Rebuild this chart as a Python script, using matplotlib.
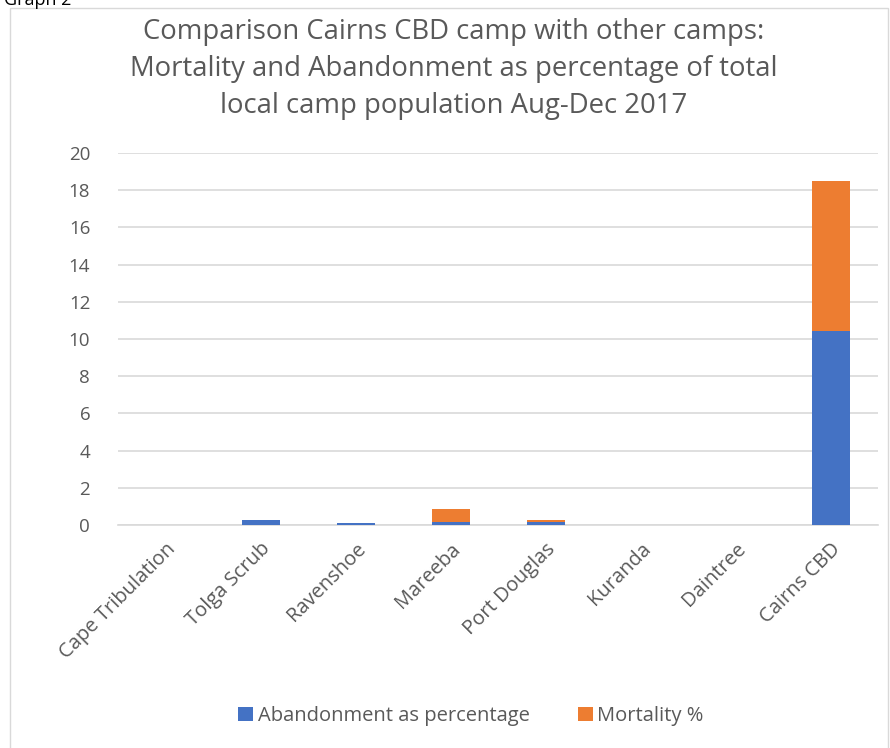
import matplotlib
matplotlib.use("Agg")
import matplotlib.pyplot as plt
from matplotlib.patches import Rectangle

# ── Data ──────────────────────────────────────────────────────────────────────
camps = ["Cape Tribulation", "Tolga Scrub", "Ravenshoe", "Mareeba",
         "Port Douglas", "Kuranda", "Daintree", "Cairns CBD"]
abandonment = [0.0, 0.25, 0.1, 0.18, 0.15, 0.0, 0.0, 10.45]
mortality   = [0.0, 0.0, 0.0, 0.7, 0.1, 0.0, 0.0, 8.05]
yticks = list(range(0, 21, 2))

title = ("Comparison Cairns CBD camp with other camps:\n"
         "Mortality and Abandonment as percentage of total\n"
         "local camp population Aug-Dec 2017")

BLUE   = "#4472c4"
ORANGE = "#ed7d31"
TEXT   = "#595959"
GRID   = "#d9d9d9"

plt.rcParams["font.family"] = ["Open Sans", "DejaVu Sans"]

fig = plt.figure(figsize=(8.9, 7.48), dpi=100, facecolor="white")

# chart frame (light grey border of the chart object)
fig.patches.append(Rectangle((10 / 890, -0.01), 878 / 890, 1 - 8 / 748 + 0.01,
                             transform=fig.transFigure, fill=False,
                             edgecolor=GRID, linewidth=1.0))
# clipped caption above the chart
fig.text(0.005, 1.0, "Graph 2", fontsize=13, color="#000000", va="center")

ax = fig.add_axes([118 / 890, 1 - 525 / 748, 760 / 890, 372 / 748])

x = range(len(camps))
ax.bar(x, abandonment, width=0.4, color=BLUE, label="Abandonment as percentage", zorder=3)
ax.bar(x, mortality, width=0.4, bottom=abandonment, color=ORANGE, label="Mortality %", zorder=3)

ax.set_xlim(-0.5, len(camps) - 0.5)
ax.set_ylim(0, 20)
ax.set_yticks(yticks)
ax.yaxis.grid(True, color=GRID, linewidth=1.2, zorder=0)
ax.set_axisbelow(True)

for s in ["top", "right", "left"]:
    ax.spines[s].set_visible(False)
ax.spines["bottom"].set_color(GRID)
ax.spines["bottom"].set_linewidth(1.2)

ax.tick_params(axis="y", length=0, pad=20, labelsize=13.5, labelcolor=TEXT)
ax.tick_params(axis="x", length=0, pad=10, labelsize=14.5, labelcolor=TEXT)
ax.set_xticks(list(x))
ax.set_xticklabels(camps, rotation=45, ha="right", rotation_mode="anchor")

fig.text(0.51, 1 - 69 / 748, title, ha="center", va="center",
         fontsize=19.8, color=TEXT, linespacing=1.42)

fig.legend(loc="center", bbox_to_anchor=(0.529, 1 - 716 / 748), ncol=2,
           frameon=False, fontsize=14.5, labelcolor=TEXT,
           handlelength=0.75, handleheight=0.75, handletextpad=0.2, columnspacing=2.4)

plt.savefig("out.png", dpi=100, facecolor="white")
